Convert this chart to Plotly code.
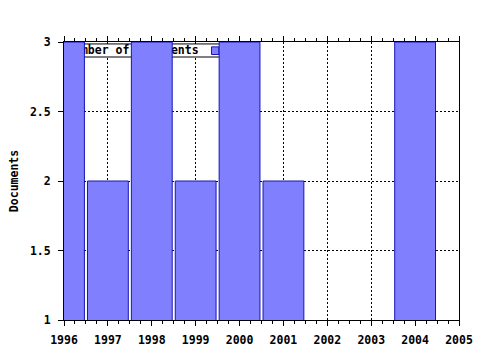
import plotly.graph_objects as go

years = [1996, 1997, 1998, 1999, 2000, 2001, 2002, 2003, 2004]
documents = [3, 2, 3, 2, 3, 2, 0, 0, 3]
series_name = "Number of documents"
y_title = "Documents"

FONT = dict(family="DejaVu Sans Mono", size=11.5, color="black", weight="bold")
FILL = "#8080ff"
EDGE = "#1515b5"

fig = go.Figure()

# legend label text drawn in the base subplot (beneath bars, like the original)
fig.add_trace(go.Scatter(
    x=[1996.07], y=[2.938], mode="text", text=[series_name],
    textposition="middle right", textfont=FONT, showlegend=False,
    hoverinfo="skip", xaxis="x", yaxis="y"))

fig.add_trace(go.Bar(
    x=years, y=documents, width=0.93, name=series_name,
    marker=dict(color=FILL, line=dict(color=EDGE, width=1)),
    showlegend=False, xaxis="x2", yaxis="y2"))

# legend box and key (drawn beneath the bars)
fig.add_shape(type="rect", xref="x", yref="y", x0=1996.03, x1=1999.6,
              y0=2.892, y1=2.986, line=dict(color="black", width=1),
              fillcolor="white", layer="between")
fig.add_shape(type="rect", xref="x", yref="y", x0=1999.36, x1=1999.53,
              y0=2.91, y1=2.965, line=dict(color=EDGE, width=1),
              fillcolor=FILL, layer="between")

axis_common = dict(showline=True, linecolor="black", linewidth=1,
                   ticks="outside", tickcolor="black", ticklen=5,
                   tickfont=FONT, showgrid=True, gridcolor="black",
                   griddash="2px,2px", gridwidth=1, zeroline=False,
                   automargin=False)

fig.update_layout(
    width=480, height=350,
    margin=dict(l=64, r=21, t=42, b=30),
    paper_bgcolor="white", plot_bgcolor="white",
    showlegend=False,
    xaxis=dict(range=[1996, 2005], dtick=1, tick0=1996, mirror="allticks",
               ticklabelstandoff=4,
               minor=dict(dtick=0.25, ticks="outside", ticklen=3,
                          tickcolor="black", showgrid=False),
               **axis_common),
    yaxis=dict(range=[1, 3], dtick=0.5, tick0=1, mirror=True,
               ticklabelstandoff=5,
               title=dict(text=y_title, font=FONT, standoff=8),
               **axis_common),
    xaxis2=dict(range=[1996, 2005], overlaying="x", visible=False),
    yaxis2=dict(range=[1, 3], overlaying="y", visible=False),
)

fig.write_html("out.html")
